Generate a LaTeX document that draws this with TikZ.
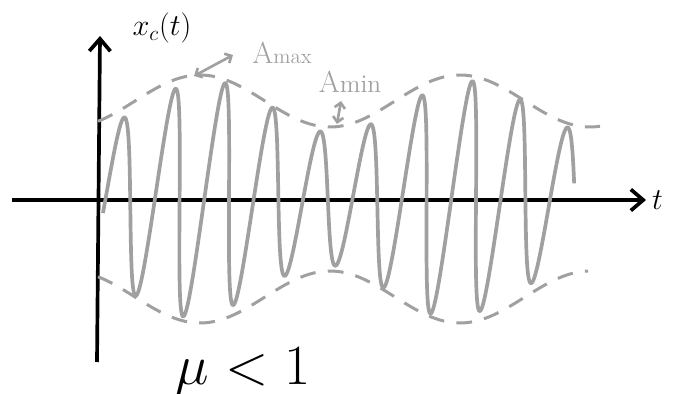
\documentclass[tikz,border=0pt]{standalone}
\usepackage{amsmath}
\usepackage{xcolor}
\usetikzlibrary{positioning, arrows.meta, calc}

\definecolor{pencil}{RGB}{160,160,160}
\tikzset{
  axis/.style={line width=2.1pt, black, -{Straight Barb[length=7pt,width=12pt]}},
  carrier/.style={line width=2.1pt, pencil, line join=round},
  envelope/.style={line width=1.7pt, pencil, dash pattern=on 9pt off 7pt},
  marker/.style={line width=1.5pt, pencil, {Straight Barb[length=3pt,width=6pt]}-{Straight Barb[length=3pt,width=6pt]}}
}

\begin{document}
\begin{tikzpicture}[x=0.02cm, y=-0.02cm]
      \useasboundingbox (0,0) rectangle (675,394);

      % Axes
      \coordinate (tstart) at (12,200);
      \coordinate (tend) at (646,200);
      \coordinate (xbot) at (97,362);
      \coordinate (xtop) at (100,36);
      \draw[axis] (tstart) -- (tend);
      \draw[axis] (xbot) -- (xtop);
      \node[right=0pt] (tlab) at (tend) {\LARGE $t$};
      \node (xlab) at (162,28) {\LARGE $x_c(t)$};

      % Envelope
      \draw[envelope] plot[domain=98:600, samples=120, smooth]
        (\x, {199 - (98 + 26*cos(1.3846*(\x-200)))});
      \draw[envelope] plot[domain=98:588, samples=120, smooth]
        (\x, {199 + (98 + 26*cos(1.3846*(\x-200)))});

      % Modulated carrier (slanted strokes)
      \draw[carrier] plot[domain=104:573, samples=700, smooth, variable=\s]
        ({\s + 0.075*(92 + 26*cos(1.3846*(\s-200)))*sin(7.2874*(\s-105.5))},
         {199 - (92 + 26*cos(1.3846*(\s-200)))*sin(7.2874*(\s-105.5))});

      % Labels for max and min amplitude
      \node[pencil] (amax) at (282,53) {{\LARGE A}{\large max}};
      \node[pencil] (amin) at (350,82) {{\LARGE A}{\Large min}};
      \coordinate (amaxa) at (194,76);
      \coordinate (amaxb) at (233,55);
      \coordinate (amina) at (341,101);
      \coordinate (aminb) at (337,124);
      \draw[marker] (amaxa) -- (amaxb);
      \draw[marker] (amina) -- (aminb);

      \node[scale=1.3] (mu) at (243,372) {\Huge $\mu < 1$};
    \end{tikzpicture}
\end{document}
